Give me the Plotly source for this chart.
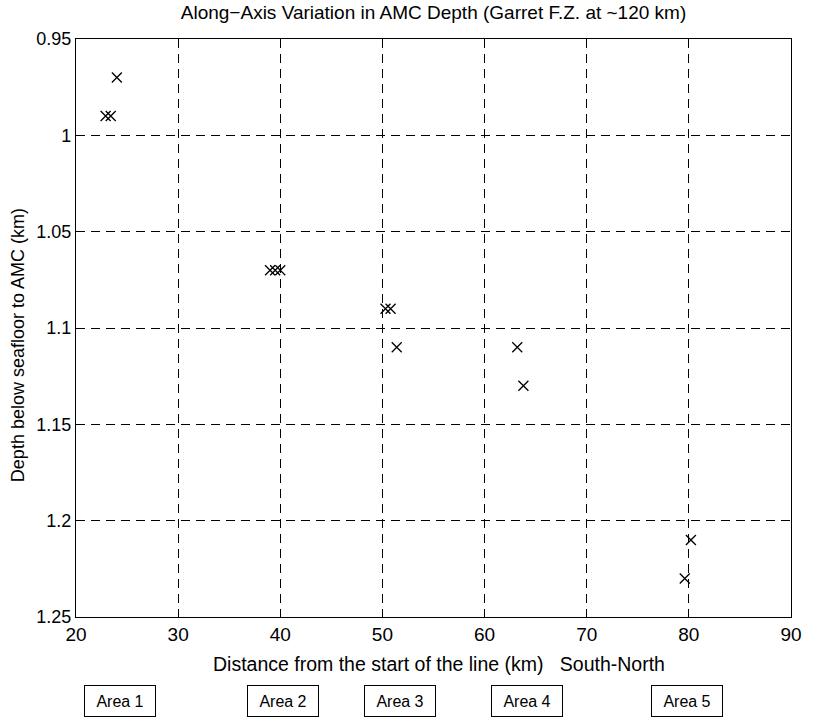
import plotly.graph_objects as go

# Along-axis distance (km) and depth to the axial magma chamber (km)
distance_km = [24.0, 22.9, 23.4, 39.0, 39.5, 40.0, 50.3, 50.8, 51.4, 63.2, 63.8, 80.2, 79.6]
amc_depth_km = [0.97, 0.99, 0.99, 1.07, 1.07, 1.07, 1.09, 1.09, 1.11, 1.11, 1.13, 1.21, 1.23]

x_ticks = [20, 30, 40, 50, 60, 70, 80, 90]
y_ticks = [0.95, 1.0, 1.05, 1.1, 1.15, 1.2, 1.25]
y_tick_text = ["0.95", "1", "1.05", "1.1", "1.15", "1.2", "1.25"]

area_names = ["Area 1", "Area 2", "Area 3", "Area 4", "Area 5"]
area_centers_km = [24.3, 40.3, 51.7, 64.2, 79.8]

FONT = "Liberation Sans, Arial, Helvetica, sans-serif"

fig = go.Figure()
fig.add_trace(go.Scatter(
    x=distance_km, y=amc_depth_km, mode="markers",
    marker=dict(symbol="x-thin", size=10, color="black",
                line=dict(color="black", width=1.3)),
    showlegend=False, hoverinfo="x+y",
))

axis_common = dict(
    showgrid=True, gridcolor="black", gridwidth=1, griddash="9px,6px",
    showline=True, linecolor="black", linewidth=1.2, mirror=True,
    ticks="inside", ticklen=6, tickcolor="black",
    zeroline=False,
)

fig.update_xaxes(range=[20, 90], tickvals=x_ticks,
                 tickfont=dict(family=FONT, size=19, color="black"), **axis_common)
fig.update_yaxes(range=[1.25, 0.95], tickvals=y_ticks, ticktext=y_tick_text,
                 tickfont=dict(family=FONT, size=18, color="black"), **axis_common)

annotations = [
    dict(text="Distance from the start of the line (km)   South-North",
         xref="paper", yref="paper", x=0.508, y=-0.081,
         xanchor="center", yanchor="middle",
         showarrow=False, font=dict(family=FONT, size=19.5, color="black")),
    dict(text="Depth below seafloor to AMC (km)", textangle=-90,
         xref="paper", yref="paper", x=-0.08, y=0.47,
         xanchor="center", yanchor="middle",
         showarrow=False, font=dict(family=FONT, size=18, color="black")),
]
for name, cx in zip(area_names, area_centers_km):
    annotations.append(dict(
        text=name, xref="x", yref="paper", x=cx, y=-0.1453,
        xanchor="center", yanchor="middle", width=66, height=26,
        showarrow=False, bordercolor="black", borderwidth=1, borderpad=2,
        bgcolor="white", font=dict(family=FONT, size=16, color="black"),
    ))

fig.update_layout(
    width=814, height=721,
    margin=dict(l=76, r=13, t=39, b=104),
    paper_bgcolor="white", plot_bgcolor="white",
    title=dict(text="Along\u2212Axis Variation in AMC Depth (Garret F.Z. at ~120 km)",
               x=0.5, xref="paper", xanchor="center", y=0.983, yanchor="middle",
               font=dict(family=FONT, size=19, color="black")),
    annotations=annotations,
)

fig.write_html("out.html")
